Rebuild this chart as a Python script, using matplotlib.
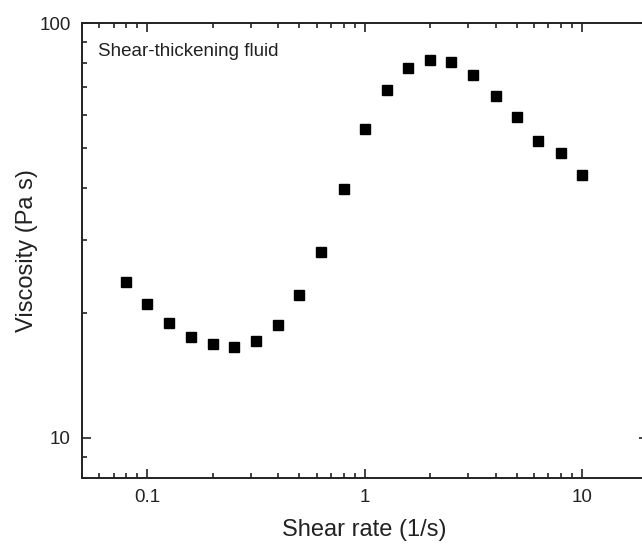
import matplotlib
matplotlib.use("Agg")
import matplotlib.pyplot as plt
from matplotlib.ticker import LogLocator, NullFormatter, FuncFormatter

plt.rcParams['font.family'] = ['Liberation Sans', 'DejaVu Sans']

# shear rate (1/s) and viscosity (Pa s)
shear_rate = [0.08, 0.1, 0.126, 0.158, 0.2, 0.25, 0.316, 0.4, 0.5, 0.63, 0.8,
              1.0, 1.26, 1.58, 2.0, 2.5, 3.16, 4.0, 5.0, 6.3, 8.0, 10.0]
viscosity = [23.8, 21.0, 18.9, 17.5, 16.8, 16.6, 17.1, 18.7, 22.1, 28.0, 39.8,
             55.6, 68.9, 77.7, 81.6, 80.5, 74.9, 66.8, 59.4, 51.8, 48.5, 43.1]

fig = plt.figure(figsize=(6.42, 5.44), dpi=100)
ax = fig.add_axes([82 / 642, 1 - 478 / 544, (647.5 - 82) / 642, (478 - 23) / 544])

ax.plot(shear_rate, viscosity, linestyle='none', marker='s', markersize=7,
        color='black')

ax.set_xscale('log')
ax.set_yscale('log')
ax.set_xlim(0.05, 20)
ax.set_ylim(8, 100)

fmt = FuncFormatter(lambda v, p: f"{v:g}")
ax.xaxis.set_major_formatter(fmt)
ax.yaxis.set_major_formatter(fmt)
ax.xaxis.set_minor_formatter(NullFormatter())
ax.yaxis.set_minor_formatter(NullFormatter())
ax.xaxis.set_minor_locator(LogLocator(base=10, subs=range(2, 10)))
ax.yaxis.set_minor_locator(LogLocator(base=10, subs=range(2, 10)))

ax.tick_params(which='both', direction='in', top=True, right=True,
               labelsize=13.5, width=1.2, color='#222222', labelcolor='#222222')
ax.tick_params(which='major', length=6.5, pad=8)
ax.tick_params(which='minor', length=3.5)
for s in ax.spines.values():
    s.set_linewidth(1.4)
    s.set_color('#222222')

ax.set_xlabel('Shear rate (1/s)', fontsize=17, labelpad=9, color='#222222')
ax.set_ylabel('Viscosity (Pa s)', fontsize=17, labelpad=1, color='#222222')

ax.text(98 / 642, 1 - 52 / 544, 'Shear-thickening fluid', transform=fig.transFigure,
        fontsize=13.5, va='center', ha='left', color='#222222')

fig.savefig('out.png', dpi=100)
